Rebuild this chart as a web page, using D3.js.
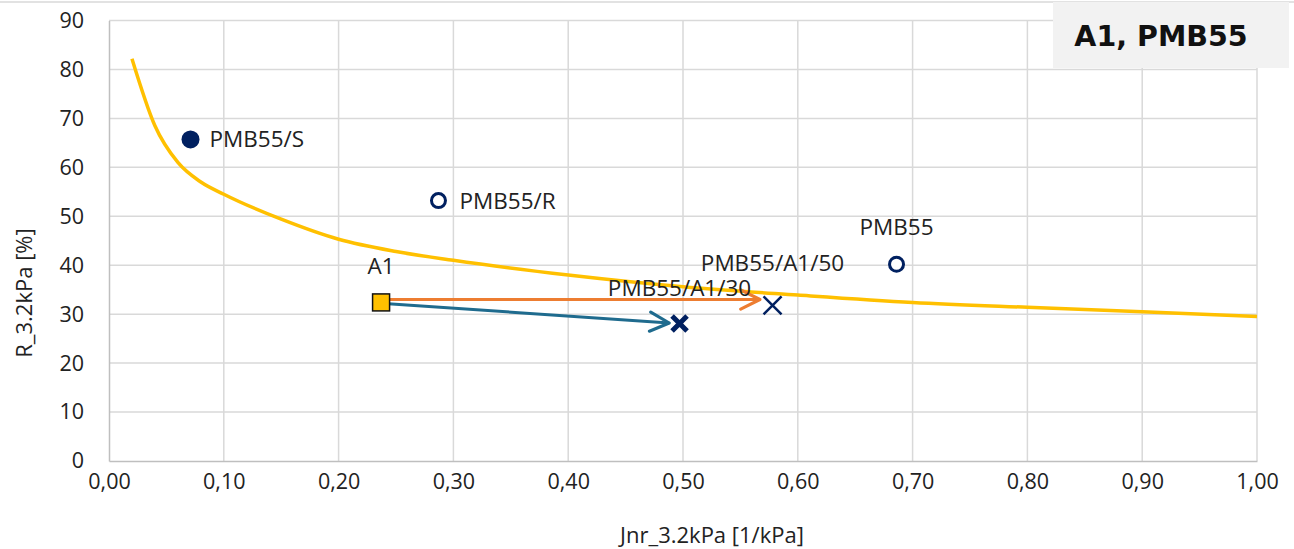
<!DOCTYPE html>
<html>
<head>
<meta charset="utf-8">
<script src="https://cdn.jsdelivr.net/npm/d3@7"></script>
<style>
  body { margin: 0; background: #fff; }
  text { font-family: "Open Sans", "Noto Sans", sans-serif; fill: #222; }
</style>
</head>
<body>
<div class="container"></div>
<script>
// limit curve (yellow)
var curveJnr = [0.02, 0.04, 0.06, 0.08, 0.10, 0.15, 0.20, 0.25, 0.30, 0.40, 0.50, 0.60, 0.70, 0.80, 0.90, 1.00];
var curveR   = [82.2, 68.5, 61.0, 57.0, 54.5, 49.4, 45.3, 42.8, 41.0, 38.0, 35.6, 33.9, 32.4, 31.4, 30.5, 29.5];

// samples
var pointNames = ['PMB55/S', 'PMB55/R', 'PMB55', 'A1', 'PMB55/A1/30', 'PMB55/A1/50'];
var pointJnr   = [0.071, 0.287, 0.686, 0.237, 0.497, 0.578];
var pointR     = [65.7, 53.2, 40.2, 32.4, 28.1, 31.8];
var pointShape = ['dot', 'ring', 'ring', 'square', 'xbold', 'x'];

// arrows from A1
var arrowFrom  = [[0.240, 33.0], [0.240, 32.2]];
var arrowTo    = [[0.567, 33.0], [0.488, 28.2]];
var arrowColor = ['#ed7d31', '#1f6b8e'];

var xTicks = [0, 0.1, 0.2, 0.3, 0.4, 0.5, 0.6, 0.7, 0.8, 0.9, 1.0];
var yTicks = [0, 10, 20, 30, 40, 50, 60, 70, 80, 90];

var gameOptions = {
  width: 1294,
  height: 549,
  left: 109,
  right: 1257,
  top: 20.5,
  bottom: 461
};

var svg = d3.select('.container').append('svg')
            .attr('width', gameOptions.width)
            .attr('height', gameOptions.height);

var x = d3.scaleLinear().domain([0, 1]).range([gameOptions.left, gameOptions.right]);
var y = d3.scaleLinear().domain([0, 90]).range([gameOptions.bottom, gameOptions.top]);

// outer frame line at top
svg.append('line')
   .attr('x1', 0).attr('x2', 1294).attr('y1', 2).attr('y2', 2)
   .style('stroke', '#d9d9d9').style('stroke-width', 1.5);

// gridlines
svg.selectAll('.hgrid').data(yTicks.slice(1)).enter().append('line')
   .attr('class', 'hgrid')
   .attr('x1', gameOptions.left).attr('x2', gameOptions.right)
   .attr('y1', function(d){ return y(d); }).attr('y2', function(d){ return y(d); })
   .style('stroke', '#d9d9d9').style('stroke-width', 1.5);
svg.selectAll('.vgrid').data(xTicks.slice(1)).enter().append('line')
   .attr('class', 'vgrid')
   .attr('x1', function(d){ return x(d); }).attr('x2', function(d){ return x(d); })
   .attr('y1', gameOptions.top).attr('y2', gameOptions.bottom)
   .style('stroke', '#d9d9d9').style('stroke-width', 1.5);

// axes
var fmt = function(d){ return d3.format('.2f')(d).replace('.', ','); };
var xAxis = svg.append('g')
   .attr('transform', 'translate(0,' + gameOptions.bottom + ')')
   .call(d3.axisBottom(x).tickValues(xTicks).tickFormat(fmt).tickSize(0).tickPadding(13));
var yAxis = svg.append('g')
   .attr('transform', 'translate(' + gameOptions.left + ',0)')
   .call(d3.axisLeft(y).tickValues(yTicks).tickSize(0).tickPadding(25));
[xAxis, yAxis].forEach(function(a){
  a.select('.domain').style('stroke', '#bfbfbf').style('stroke-width', 1.5);
  a.selectAll('text').style('font-size', '21.5px').style('fill', '#222')
   .style('font-family', '"Open Sans", sans-serif');
});

// axis titles
svg.append('text')
   .attr('x', 712).attr('y', 543)
   .attr('text-anchor', 'middle').style('font-size', '22px')
   .text('Jnr_3.2kPa [1/kPa]');
svg.append('text')
   .attr('transform', 'translate(32,' + 293 + ') rotate(-90)')
   .attr('text-anchor', 'middle').style('font-size', '22px')
   .text('R_3.2kPa [%]');

// yellow curve
var curveData = curveJnr.map(function(d, i){ return [d, curveR[i]]; });
svg.append('path')
   .datum(curveData)
   .attr('d', d3.line().x(function(d){ return x(d[0]); }).y(function(d){ return y(d[1]); }).curve(d3.curveMonotoneX))
   .style('fill', 'none').style('stroke', '#ffc000').style('stroke-width', 3.5);

// arrow markers
var defs = svg.append('defs');
arrowColor.forEach(function(c, i){
  defs.append('marker')
      .attr('id', 'arr' + i)
      .attr('viewBox', '0 0 10 10').attr('refX', 9).attr('refY', 5)
      .attr('markerUnits', 'userSpaceOnUse')
      .attr('orient', 'auto')
      .attr('markerWidth', 24).attr('markerHeight', 24)
    .append('path')
      .attr('d', 'M1,1 L9,5 L1,9')
      .style('fill', 'none').style('stroke', c).style('stroke-width', 1.3)
      .style('stroke-linecap', 'round').style('stroke-linejoin', 'round');
});
svg.selectAll('.arrow').data(arrowFrom).enter().append('line')
   .attr('class', 'arrow')
   .attr('x1', function(d){ return x(d[0]); })
   .attr('y1', function(d){ return y(d[1]); })
   .attr('x2', function(d, i){ return x(arrowTo[i][0]); })
   .attr('y2', function(d, i){ return y(arrowTo[i][1]); })
   .style('stroke', function(d, i){ return arrowColor[i]; })
   .style('stroke-width', 3)
   .attr('marker-end', function(d, i){ return 'url(#arr' + i + ')'; });

// points
var navy = '#002060';
var points = svg.selectAll('.pt').data(pointNames).enter().append('g')
   .attr('class', 'pt')
   .attr('transform', function(d, i){ return 'translate(' + x(pointJnr[i]) + ',' + y(pointR[i]) + ')'; });
points.each(function(d, i){
  var g = d3.select(this);
  var s = pointShape[i];
  if (s === 'dot') {
    g.append('circle').attr('r', 9).style('fill', navy);
  } else if (s === 'ring') {
    g.append('circle').attr('r', 7).style('fill', '#fff').style('stroke', navy).style('stroke-width', 3);
  } else if (s === 'square') {
    g.append('rect').attr('x', -8.5).attr('y', -8.5).attr('width', 17).attr('height', 17)
     .style('fill', '#ffc000').style('stroke', '#111').style('stroke-width', 1.5);
  } else {
    var h = s === 'xbold' ? 7.5 : 9;
    var w = s === 'xbold' ? 5 : 2.5;
    g.append('path').attr('d', 'M' + (-h) + ',' + (-h) + 'L' + h + ',' + h + 'M' + h + ',' + (-h) + 'L' + (-h) + ',' + h)
     .style('stroke', navy).style('stroke-width', w);
  }
});

// point labels
var labelDx = [19, 21, 0, 0, 0, 0];
var labelDy = [8, 8, -29, -28, -27, -34];
var labelAnchor = ['start', 'start', 'middle', 'middle', 'middle', 'middle'];
svg.selectAll('.plabel').data(pointNames).enter().append('text')
   .attr('class', 'plabel')
   .attr('x', function(d, i){ return x(pointJnr[i]) + labelDx[i]; })
   .attr('y', function(d, i){ return y(pointR[i]) + labelDy[i]; })
   .attr('text-anchor', function(d, i){ return labelAnchor[i]; })
   .style('font-size', '22.5px')
   .text(function(d){ return d; });

// title box
svg.append('rect')
   .attr('x', 1053).attr('y', 2).attr('width', 236).attr('height', 66)
   .style('fill', '#f2f2f2');
svg.append('text')
   .attr('x', 1161).attr('y', 46)
   .attr('text-anchor', 'middle')
   .style('font-family', '"DejaVu Sans", sans-serif')
   .style('font-weight', 'bold').style('font-size', '28.5px').style('fill', '#111')
   .text('A1, PMB55');
</script>
</body>
</html>
